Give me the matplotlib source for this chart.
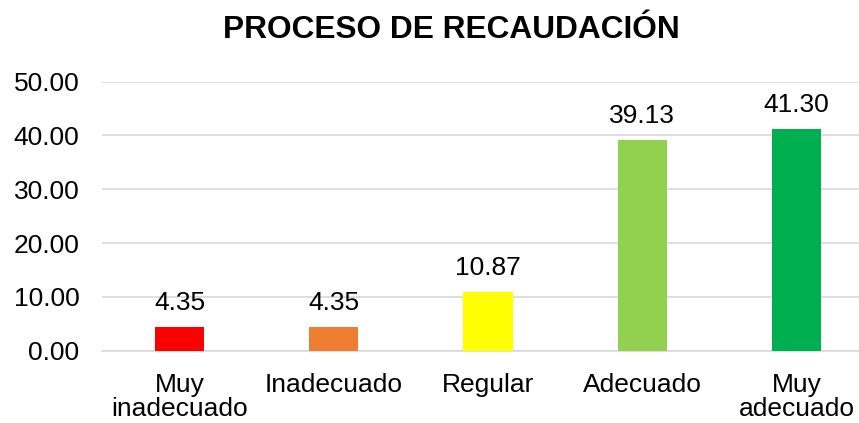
import matplotlib
matplotlib.use("Agg")
import matplotlib.pyplot as plt

categories = ["Muy\ninadecuado", "Inadecuado", "Regular", "Adecuado", "Muy\nadecuado"]
values = [4.35, 4.35, 10.87, 39.13, 41.30]
colors = ["#FF0000", "#ED7D31", "#FFFF00", "#92D050", "#00B050"]
yticks = [0, 10, 20, 30, 40, 50]
title = "PROCESO DE RECAUDACIÓN"

plt.rcParams['font.family'] = ['Liberation Sans', 'DejaVu Sans']

fig = plt.figure(figsize=(8.59, 4.23), dpi=100)
ax = fig.add_axes([102.4/859, (423-350.7)/423, 771.2/859, 269/423])
x = list(range(len(categories)))
ax.bar(x, values, width=0.318, color=colors, zorder=3)
ax.set_xlim(-0.5, len(categories)-0.5)
ax.set_ylim(0, 50)
ax.set_yticks(yticks)
ax.set_yticklabels([f"{v:.2f}" for v in yticks], fontsize=19)
ax.set_xticks(x)
ax.set_xticklabels(categories, fontsize=19, linespacing=1.02)
ax.tick_params(axis='both', length=0)
ax.tick_params(axis='y', pad=16.5)
ax.tick_params(axis='x', pad=16)
ax.grid(axis='y', color='#D9D9D9', linewidth=1.2, zorder=0)
for s in ['top', 'right', 'left']:
    ax.spines[s].set_visible(False)
ax.spines['bottom'].set_color('#D9D9D9')
ax.spines['bottom'].set_linewidth(1.2)
for xi, v in zip(x, values):
    ax.annotate(f"{v:.2f}", (xi, v), xytext=(0, 12.2), textcoords='offset points',
                ha='center', va='baseline', fontsize=19)
fig.text(451/859, 1-30/423, title, ha='center', va='center', fontsize=22.8, fontweight='bold')
fig.savefig("out.png", dpi=100)
